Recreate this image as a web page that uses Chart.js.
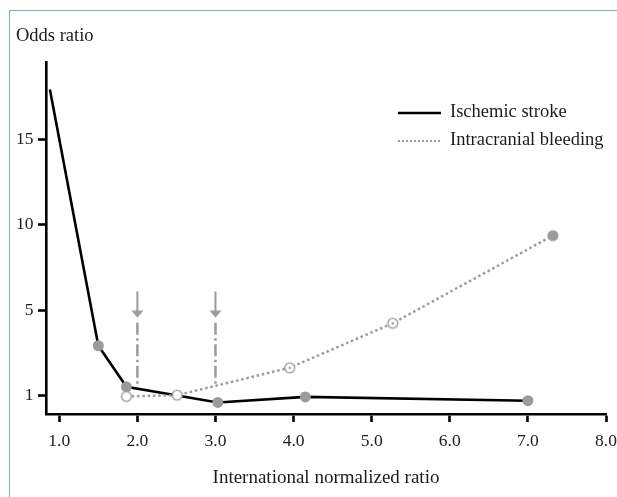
<!DOCTYPE html>
<html>
<head>
<meta charset="utf-8">
<title>Odds ratio by INR</title>
<script src="https://cdn.jsdelivr.net/npm/chart.js@4/dist/chart.umd.min.js"></script>
<style>
  html, body { margin: 0; padding: 0; background: #fff; }
  #wrap { position: relative; width: 617px; height: 497px; overflow: hidden; }
  #frame {
    position: absolute; left: 9px; top: 10px; width: 700px; height: 600px;
    border-top: 1px solid #7ea6e4; border-left: 1px solid #7ea6e4;
  }
  #chart { position: absolute; left: 0; top: 0; }
</style>
</head>
<body>
<div id="wrap">
  <div id="frame"></div>
  <canvas id="chart" width="617" height="497"></canvas>
</div>
<script>
// values
var xTicks = [1, 2, 3, 4, 5, 6, 7, 8];
var yTicks = [1, 5, 10, 15];
var xRange = [0.83, 8.0];
var yRange = [0.15, 19.5];

var ischemicInr = [0.88, 1.5, 1.86, 3.03, 4.15, 7.0];
var ischemicOr = [17.9, 3.34, 1.42, 0.69, 0.95, 0.77];
var ischemicMarked = [false, true, true, true, true, true];

var bleedingInr = [1.86, 2.51, 3.95, 5.27, 7.32];
var bleedingOr = [0.97, 1.03, 2.31, 4.39, 9.36];
var bleedingMarker = ["open", "open", "dot", "dot", "filled"];

// target range arrows (INR 2.0 and 3.0)
var targetInr = [2.0, 3.0];
var arrowTopOr = 6.1;
var arrowHeadOr = 4.82;
var dashTopOr = 4.42;
var dashBottomOr = 1.4;

var labels = ["Ischemic stroke", "Intracranial bleeding"];

var GRAY = "#9b9b9b";
var TEXT = "#1c1c1c";
var SERIF = "'Liberation Serif', 'DejaVu Serif', serif";

// y axis in the figure is stretched: 1, 5, 10, 15 sit at equal steps
function toAxis(v) {
  return v <= 5 ? (v - 1) / 4 : 1 + (v - 5) / 5;
}
function fromAxis(a) {
  return a <= 1 ? 1 + 4 * a : 5 + 5 * (a - 1);
}

function points(xs, ys) {
  return xs.map(function (x, i) {
    return { x: x, y: toAxis(ys[i]) };
  });
}

function markerCanvas(kind) {
  var c = document.createElement("canvas");
  c.width = 14;
  c.height = 14;
  var ctx = c.getContext("2d");
  ctx.beginPath();
  if (kind === "filled") {
    ctx.arc(7, 7, 5.5, 0, Math.PI * 2);
    ctx.fillStyle = GRAY;
    ctx.fill();
  } else {
    ctx.arc(7, 7, 4.9, 0, Math.PI * 2);
    ctx.fillStyle = "#fff";
    ctx.fill();
    ctx.lineWidth = 1.4;
    ctx.strokeStyle = GRAY;
    ctx.stroke();
    if (kind === "dot") {
      ctx.beginPath();
      ctx.arc(7, 7, 1.3, 0, Math.PI * 2);
      ctx.fillStyle = GRAY;
      ctx.fill();
    }
  }
  return c;
}

function arrowHead() {
  var c = document.createElement("canvas");
  c.width = 13;
  c.height = 8;
  var ctx = c.getContext("2d");
  ctx.beginPath();
  ctx.moveTo(0.5, 0.5);
  ctx.lineTo(12.5, 0.5);
  ctx.lineTo(6.5, 7.5);
  ctx.closePath();
  ctx.fillStyle = GRAY;
  ctx.fill();
  return c;
}

var markers = { open: markerCanvas("open"), dot: markerCanvas("dot"), filled: markerCanvas("filled") };
var head = arrowHead();

var datasets = [
  {
    label: labels[1],
    data: points(bleedingInr, bleedingOr),
    borderColor: GRAY,
    borderWidth: 2.5,
    borderDash: [2.5, 2.8],
    pointStyle: bleedingMarker.map(function (k) { return markers[k]; }),
    pointRadius: 5,
    order: 0
  },
  {
    label: labels[0],
    data: points(ischemicInr, ischemicOr),
    borderColor: "#000",
    borderWidth: 2.6,
    pointStyle: "circle",
    pointRadius: ischemicMarked.map(function (m) { return m ? 5.5 : 0; }),
    pointBackgroundColor: GRAY,
    pointBorderWidth: 0,
    order: 1
  }
];

targetInr.forEach(function (x) {
  datasets.push({
    label: "arrow",
    data: points([x, x], [arrowTopOr, arrowHeadOr]),
    borderColor: GRAY,
    borderWidth: 2,
    pointStyle: ["circle", head],
    pointRadius: [0, 5],
    order: 2
  });
  datasets.push({
    label: "target",
    data: points([x, x], [dashTopOr, dashBottomOr]),
    borderColor: GRAY,
    borderWidth: 2.5,
    borderDash: [12, 3.5, 2.5, 3.5],
    pointRadius: 0,
    order: 2
  });
});

var textPlugin = {
  id: "textPlugin",
  afterDraw: function (chart) {
    var ctx = chart.ctx;
    var area = chart.chartArea;
    ctx.save();
    ctx.font = "18.5px " + SERIF;
    ctx.fillStyle = TEXT;
    ctx.textAlign = "left";
    ctx.textBaseline = "middle";
    ctx.fillText("Odds ratio", 16, 36);

    // legend, top right inside the plot
    var x0 = area.right - 208;
    var y0 = area.top + 51;
    [1, 0].forEach(function (dsIndex, row) {
      var ds = chart.data.datasets[dsIndex];
      var y = y0 + row * 28;
      ctx.beginPath();
      ctx.setLineDash(ds.borderDash ? [2, 2] : []);
      ctx.lineWidth = ds.borderDash ? 2 : 2.6;
      ctx.strokeStyle = ds.borderColor;
      ctx.moveTo(x0, y);
      ctx.lineTo(x0 + 43, y);
      ctx.stroke();
      ctx.setLineDash([]);
      ctx.fillStyle = TEXT;
      ctx.fillText(ds.label, x0 + 52, y - 1);
    });
    ctx.restore();
  }
};

new Chart(document.getElementById("chart"), {
  type: "line",
  data: { datasets: datasets },
  options: {
    responsive: false,
    animation: false,
    devicePixelRatio: 1,
    layout: { padding: { top: 62, right: 11, bottom: 0, left: 0 } },
    elements: { line: { tension: 0 } },
    plugins: {
      legend: { display: false },
      tooltip: { enabled: false }
    },
    scales: {
      x: {
        type: "linear",
        min: xRange[0],
        max: xRange[1],
        afterBuildTicks: function (scale) {
          scale.ticks = xTicks.map(function (v) { return { value: v }; });
        },
        afterFit: function (scale) {
          scale.height = 83;
          scale.paddingLeft = 0;
          scale.paddingRight = 0;
        },
        border: { display: true, color: "#000", width: 2.6 },
        grid: { drawOnChartArea: false, tickLength: 8, tickWidth: 2.6, tickColor: "#000" },
        ticks: {
          autoSkip: false,
          maxRotation: 0,
          padding: 9,
          color: TEXT,
          font: { family: SERIF, size: 17.5 },
          callback: function (v) { return v.toFixed(1); }
        },
        title: {
          display: true,
          text: "International normalized ratio",
          color: TEXT,
          font: { family: SERIF, size: 19 },
          padding: { top: 4, bottom: 8 }
        }
      },
      y: {
        type: "linear",
        min: toAxis(yRange[0]),
        max: toAxis(yRange[1]),
        afterBuildTicks: function (scale) {
          scale.ticks = yTicks.map(function (v) { return { value: toAxis(v) }; });
        },
        afterFit: function (scale) {
          scale.width = 46;
        },
        border: { display: true, color: "#000", width: 2.6 },
        grid: { drawOnChartArea: false, tickLength: 8, tickWidth: 2.6, tickColor: "#000" },
        ticks: {
          padding: 4.5,
          color: TEXT,
          font: { family: SERIF, size: 17.5 },
          callback: function (v) { return String(Math.round(fromAxis(v))); }
        }
      }
    }
  },
  plugins: [textPlugin]
});
</script>
</body>
</html>
